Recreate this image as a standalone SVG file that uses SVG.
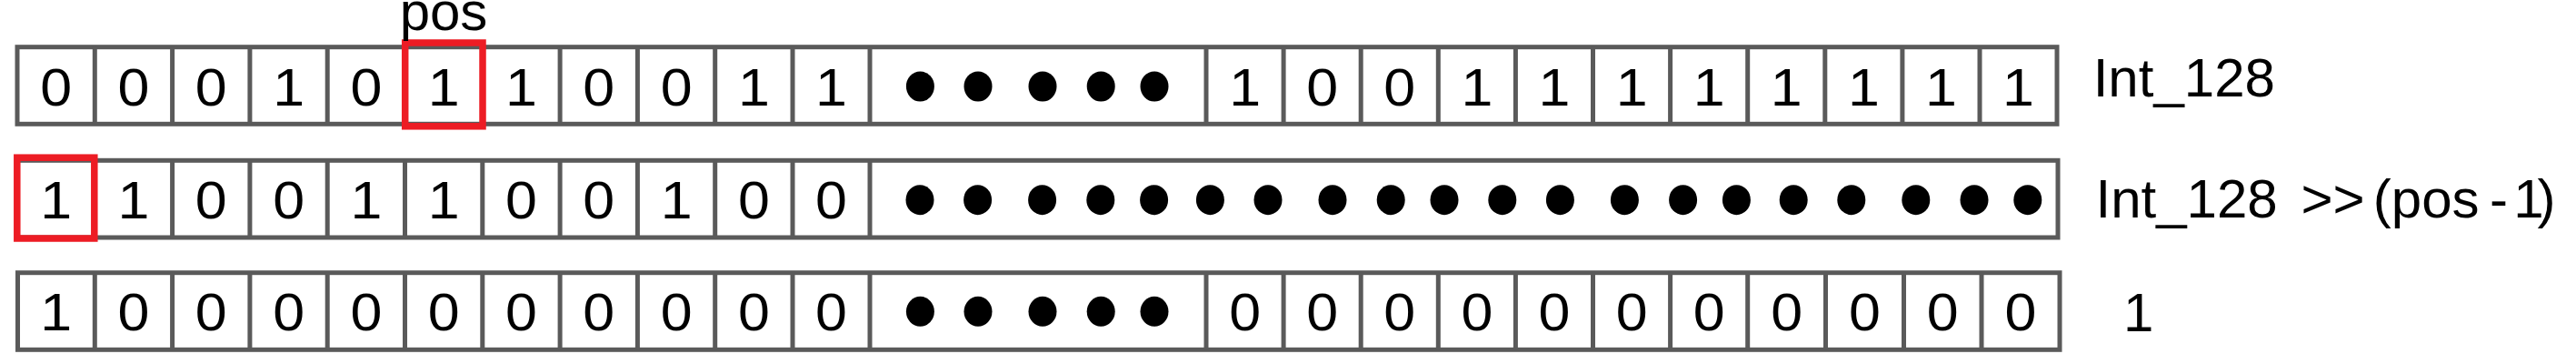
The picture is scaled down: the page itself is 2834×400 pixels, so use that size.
<svg xmlns="http://www.w3.org/2000/svg" width="2834" height="400" viewBox="0 0 2834 400">
<style>
.frame{fill:#ffffff;stroke:#5a5a5a;stroke-width:5}
.div{stroke:#5a5a5a;stroke-width:5}
.hl{fill:none;stroke:#ed1c24;stroke-width:7.5}
.d{font-family:"Liberation Sans",Arial,sans-serif;font-size:57px;fill:#000;text-anchor:middle}
.lbl{font-family:"Liberation Sans",Arial,sans-serif;font-size:60px;fill:#000}
.dot{fill:#000}
</style>
<defs>
<g id="dots5">
<ellipse class="dot" cx="0" cy="0" rx="15.5" ry="16.5"/>
<ellipse class="dot" cx="63.6" cy="0" rx="15.5" ry="16.5"/>
<ellipse class="dot" cx="134.6" cy="0" rx="15.5" ry="16.5"/>
<ellipse class="dot" cx="198.8" cy="0" rx="15.5" ry="16.5"/>
<ellipse class="dot" cx="257.6" cy="0" rx="15.5" ry="16.5"/>
</g>
</defs>
<rect width="2834" height="400" fill="#ffffff"/>

<g id="row1">
<rect class="frame" x="19" y="51.7" width="2244" height="84.6"/>
<path class="div" d="M104.3 51.7V136.3M189.6 51.7V136.3M274.9 51.7V136.3M360.2 51.7V136.3M445.5 51.7V136.3M530.8 51.7V136.3M616.1 51.7V136.3M701.4 51.7V136.3M786.7 51.7V136.3M872 51.7V136.3M957 51.7V136.3M1327 51.7V136.3M1412.1 51.7V136.3M1497.2 51.7V136.3M1582.3 51.7V136.3M1667.4 51.7V136.3M1752.5 51.7V136.3M1837.6 51.7V136.3M1922.7 51.7V136.3M2007.8 51.7V136.3M2092.9 51.7V136.3M2178 51.7V136.3"/>
<g class="d" transform="scale(1.1 1)">
<text x="56.18" y="116.3">0</text><text x="133.64" y="116.3">0</text><text x="211.18" y="116.3">0</text><text x="288.73" y="116.3">1</text><text x="366.27" y="116.3">0</text><text x="443.82" y="116.3">1</text><text x="521.36" y="116.3">1</text><text x="598.91" y="116.3">0</text><text x="676.45" y="116.3">0</text><text x="754" y="116.3">1</text><text x="831.36" y="116.3">1</text>
<text x="1245.09" y="116.3">1</text><text x="1322.45" y="116.3">0</text><text x="1399.82" y="116.3">0</text><text x="1477.18" y="116.3">1</text><text x="1554.55" y="116.3">1</text><text x="1631.91" y="116.3">1</text><text x="1709.27" y="116.3">1</text><text x="1786.64" y="116.3">1</text><text x="1864" y="116.3">1</text><text x="1941.36" y="116.3">1</text><text x="2018.64" y="116.3">1</text>
</g>
<use href="#dots5" x="1012.4" y="95"/>
<rect class="hl" x="445.7" y="47" width="85.3" height="91.8"/>
<text class="lbl" x="488" y="33" text-anchor="middle">pos</text>
<text class="lbl" x="2302.7" y="106">Int_128</text>
</g>

<g id="row2">
<rect class="frame" x="19" y="176.3" width="2245" height="84.7"/>
<path class="div" d="M104.3 176.3V261M189.6 176.3V261M274.9 176.3V261M360.2 176.3V261M445.5 176.3V261M530.8 176.3V261M616.1 176.3V261M701.4 176.3V261M786.7 176.3V261M872 176.3V261M957 176.3V261"/>
<g class="d" transform="scale(1.1 1)">
<text x="56.18" y="240.5">1</text><text x="133.64" y="240.5">1</text><text x="211.18" y="240.5">0</text><text x="288.73" y="240.5">0</text><text x="366.27" y="240.5">1</text><text x="443.82" y="240.5">1</text><text x="521.36" y="240.5">0</text><text x="598.91" y="240.5">0</text><text x="676.45" y="240.5">1</text><text x="754" y="240.5">0</text><text x="831.36" y="240.5">0</text>
</g>
<use href="#dots5" x="1012" y="219.7"/>
<use href="#dots5" x="1331.4" y="219.7"/>
<use href="#dots5" x="1652.8" y="219.7"/>
<use href="#dots5" x="1973.2" y="219.7"/>
<rect class="hl" x="18.8" y="173.2" width="85" height="88.8"/>
<text class="lbl" y="239.3"><tspan x="2305.5">Int_128</tspan><tspan x="2531.4">&gt;&gt;</tspan><tspan x="2610.8">(pos</tspan><tspan x="2739">-</tspan><tspan x="2765.2" letter-spacing="-7">1)</tspan></text>
</g>

<g id="row3">
<rect class="frame" x="19.5" y="299.7" width="2246.5" height="84.6"/>
<path class="div" d="M104.3 299.7V384.3M189.6 299.7V384.3M274.9 299.7V384.3M360.2 299.7V384.3M445.5 299.7V384.3M530.8 299.7V384.3M616.1 299.7V384.3M701.4 299.7V384.3M786.7 299.7V384.3M872 299.7V384.3M957 299.7V384.3M1327 299.7V384.3M1412.1 299.7V384.3M1497.2 299.7V384.3M1582.3 299.7V384.3M1667.4 299.7V384.3M1752.5 299.7V384.3M1837.6 299.7V384.3M1922.7 299.7V384.3M2008.5 299.7V384.3M2094.5 299.7V384.3M2180 299.7V384.3"/>
<g class="d" transform="scale(1.1 1)">
<text x="56.18" y="363.5">1</text><text x="133.64" y="363.5">0</text><text x="211.18" y="363.5">0</text><text x="288.73" y="363.5">0</text><text x="366.27" y="363.5">0</text><text x="443.82" y="363.5">0</text><text x="521.36" y="363.5">0</text><text x="598.91" y="363.5">0</text><text x="676.45" y="363.5">0</text><text x="754" y="363.5">0</text><text x="831.36" y="363.5">0</text>
<text x="1245.09" y="363.5">0</text><text x="1322.45" y="363.5">0</text><text x="1399.82" y="363.5">0</text><text x="1477.18" y="363.5">0</text><text x="1554.55" y="363.5">0</text><text x="1631.91" y="363.5">0</text><text x="1709.27" y="363.5">0</text><text x="1786.91" y="363.5">0</text><text x="1865" y="363.5">0</text><text x="1942.91" y="363.5">0</text><text x="2020.91" y="363.5">0</text>
</g>
<use href="#dots5" x="1012.4" y="342.3"/>
<text class="lbl" x="2336" y="364">1</text>
</g>
</svg>
